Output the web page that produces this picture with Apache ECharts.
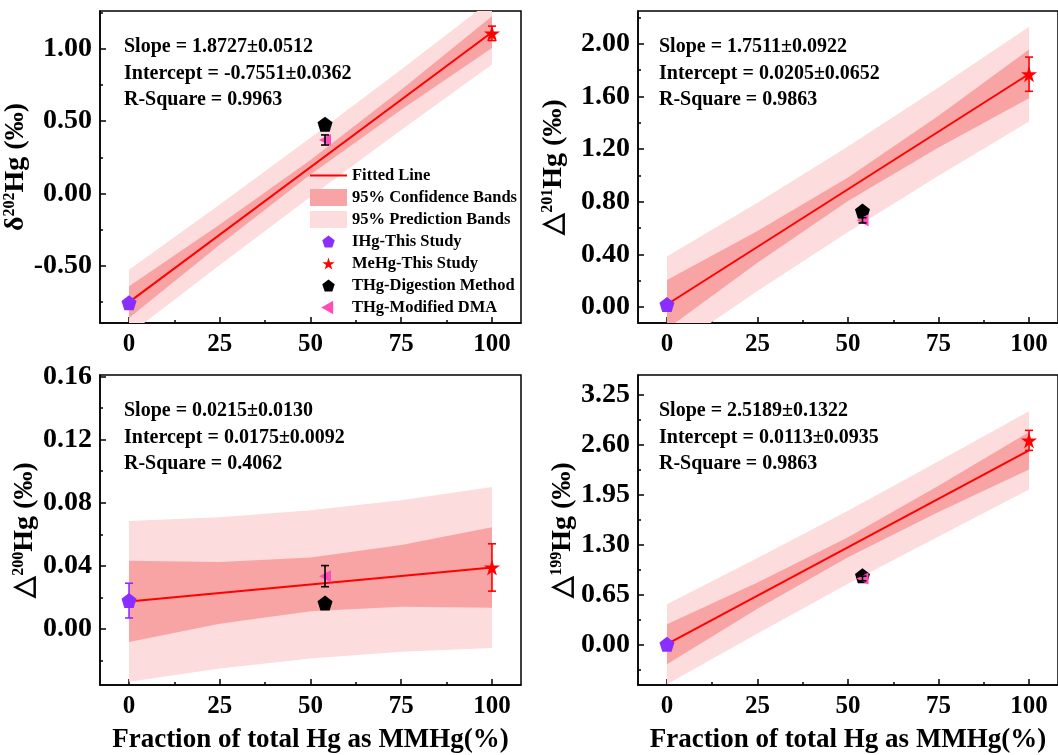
<!DOCTYPE html>
<html>
<head>
<meta charset="utf-8">
<title>Hg isotopes vs MMHg fraction</title>
<script src="https://cdn.jsdelivr.net/npm/echarts@6.0.0/dist/echarts.min.js"></script>
<style>
html, body { margin: 0; padding: 0; background: #fff; }
#main { width: 1058px; height: 755px; }
</style>
</head>
<body>
<div id="main"></div>
<script>
// x positions (fit line ends, band read points) and tick values
var fitX = [0, 100];
var bandX = [0, 25, 50, 75, 100];
var xTicks = [0, 25, 50, 75, 100];
var xMinor = [12.5, 37.5, 62.5, 87.5];

// d202Hg
var d202Ticks = [-0.5, 0, 0.5, 1.0];
var d202Minor = [-0.75, -0.25, 0.25, 0.75, 1.25];
var d202Line = [-0.755, 1.118];
var d202ConfLow = [-0.865, -0.357, 0.131, 0.579, 1.008];
var d202ConfHigh = [-0.645, -0.217, 0.231, 0.719, 1.228];
var d202PredLow = [-0.98, -0.497, -0.024, 0.439, 0.893];
var d202PredHigh = [-0.53, -0.077, 0.386, 0.859, 1.343];
var d202IHg = [0, -0.76, 0.02];     // x, y, error
var d202MeHg = [100, 1.11, 0.05];
var d202Dig = [54, 0.48, 0];
var d202Dma = [54, 0.37, 0.035];
var d202Stats = ['Slope = 1.8727±0.0512', 'Intercept = -0.7551±0.0362', 'R-Square = 0.9963'];

// D201Hg
var d201Ticks = [0, 0.4, 0.8, 1.2, 1.6, 2.0];
var d201Minor = [0.2, 0.6, 1.0, 1.4, 1.8, 2.2];
var d201Line = [0.0205, 1.7716];
var d201ConfLow = [-0.165, 0.338, 0.806, 1.214, 1.587];
var d201ConfHigh = [0.206, 0.578, 0.986, 1.454, 1.957];
var d201PredLow = [-0.345, 0.123, 0.571, 0.999, 1.41];
var d201PredHigh = [0.386, 0.793, 1.221, 1.669, 2.13];
var d201IHg = [0, 0.02, 0.02];
var d201MeHg = [100, 1.77, 0.13];
var d201Dig = [54, 0.73, 0.02];
var d201Dma = [54, 0.66, 0.02];
var d201Stats = ['Slope = 1.7511±0.0922', 'Intercept = 0.0205±0.0652', 'R-Square = 0.9863'];

// D200Hg
var d200Ticks = [0, 0.04, 0.08, 0.12, 0.16];
var d200Minor = [-0.02, 0.02, 0.06, 0.10, 0.14];
var d200Line = [0.0175, 0.039];
var d200ConfLow = [-0.0082, 0.0034, 0.0113, 0.0141, 0.0135];
var d200ConfHigh = [0.0432, 0.0425, 0.0453, 0.0532, 0.0645];
var d200PredLow = [-0.0335, -0.0251, -0.0187, -0.0144, -0.012];
var d200PredHigh = [0.0685, 0.0709, 0.0753, 0.0816, 0.090];
var d200IHg = [0, 0.018, 0.011];
var d200MeHg = [100, 0.039, 0.015];
var d200Dig = [54, 0.0165, 0];
var d200Dma = [54, 0.0335, 0.0067];
var d200Stats = ['Slope = 0.0215±0.0130', 'Intercept = 0.0175±0.0092', 'R-Square = 0.4062'];

// D199Hg
var d199Ticks = [0, 0.65, 1.3, 1.95, 2.6, 3.25];
var d199Minor = [-0.325, 0.325, 0.975, 1.625, 2.275, 2.925];
var d199Line = [0.0113, 2.530];
var d199ConfLow = [-0.249, 0.471, 1.141, 1.73, 2.28];
var d199ConfHigh = [0.271, 0.811, 1.401, 2.07, 2.77];
var d199PredLow = [-0.509, 0.151, 0.796, 1.41, 2.02];
var d199PredHigh = [0.531, 1.131, 1.746, 2.39, 3.04];
var d199IHg = [0, 0.01, 0.02];
var d199MeHg = [100, 2.66, 0.13];
var d199Dig = [54, 0.90, 0.04];
var d199Dma = [54, 0.865, 0.03];
var d199Stats = ['Slope = 2.5189±0.1322', 'Intercept = 0.0113±0.0935', 'R-Square = 0.9863'];

var FONT = '"Liberation Serif", "Times New Roman", serif';
var colors = { ihg: '#8a2eff', mehg: '#ff0000', dig: '#000000', dma: '#ff4db8',
               conf: '#f9a4a4', pred: '#fddcdd', line: '#ff0000' };

// marker shapes
var pent = 'path://M0,-10L9.511,-3.09L5.878,8.09L-5.878,8.09L-9.511,-3.09Z';
var star = 'path://M0,-10L2.245,-3.09L9.511,-3.09L3.633,1.18L5.878,8.09L0,3.82L-5.878,8.09L-3.633,1.18L-9.511,-3.09L-2.245,-3.09Z';
var triL = 'path://M-8,0L6,-8L6,8Z';
// same shapes with empty room around them, so legend icons come out small
var pentIcon = 'path://M-13,-14M13,12M0,-10L9.511,-3.09L5.878,8.09L-5.878,8.09L-9.511,-3.09Z';
var starIcon = 'path://M-13,-14M13,12M0,-10L2.245,-3.09L9.511,-3.09L3.633,1.18L5.878,8.09L0,3.82L-5.878,8.09L-3.633,1.18L-9.511,-3.09L-2.245,-3.09Z';
var triIcon = 'path://M-10,-10M11,10M-8,0L6,-8L6,8Z';
var lineIcon = 'path://M0,0L37,0L37,2L0,2Z';

var panels = [
    { grid: {left: 100, top: 11, width: 421, height: 312}, yMin: -0.90, yMax: 1.265,
      ticks: d202Ticks, minor: d202Minor, sym: 'δ', iso: '202', nameGap: 61,
      line: d202Line, conf: [d202ConfLow, d202ConfHigh], pred: [d202PredLow, d202PredHigh],
      ihg: d202IHg, mehg: d202MeHg, dig: d202Dig, dma: d202Dma, stats: d202Stats, statsPos: [124, 34], xTitle: false },
    { grid: {left: 638, top: 11, width: 422, height: 312}, yMin: -0.12, yMax: 2.25,
      ticks: d201Ticks, minor: d201Minor, sym: '△', iso: '201', nameGap: 70,
      line: d201Line, conf: [d201ConfLow, d201ConfHigh], pred: [d201PredLow, d201PredHigh],
      ihg: d201IHg, mehg: d201MeHg, dig: d201Dig, dma: d201Dma, stats: d201Stats, statsPos: [659, 34], xTitle: false },
    { grid: {left: 100, top: 375, width: 421, height: 312}, yMin: -0.0355, yMax: 0.161,
      ticks: d200Ticks, minor: d200Minor, sym: '△', iso: '200', nameGap: 57,
      line: d200Line, conf: [d200ConfLow, d200ConfHigh], pred: [d200PredLow, d200PredHigh],
      ihg: d200IHg, mehg: d200MeHg, dig: d200Dig, dma: d200Dma, stats: d200Stats, statsPos: [124, 398], xTitle: true },
    { grid: {left: 638, top: 375, width: 422, height: 312}, yMin: -0.52, yMax: 3.51,
      ticks: d199Ticks, minor: d199Minor, sym: '△', iso: '199', nameGap: 58,
      line: d199Line, conf: [d199ConfLow, d199ConfHigh], pred: [d199PredLow, d199PredHigh],
      ihg: d199IHg, mehg: d199MeHg, dig: d199Dig, dma: d199Dma, stats: d199Stats, statsPos: [659, 398], xTitle: true }
];

function bandSeries(name, g, low, high, color) {
    return {
        type: 'custom', name: name, xAxisIndex: 2 * g, yAxisIndex: 2 * g,
        silent: true, itemStyle: {color: color},
        data: [[bandX[0], low[0]]],
        renderItem: function (params, api) {
            var pts = [];
            for (var i = 0; i < bandX.length; i++) pts.push(api.coord([bandX[i], high[i]]));
            for (var j = bandX.length - 1; j >= 0; j--) pts.push(api.coord([bandX[j], low[j]]));
            var cs = params.coordSys;
            return {
                type: 'polygon', shape: {points: pts}, style: {fill: color},
                clipPath: {type: 'rect', shape: {x: cs.x, y: cs.y, width: cs.width, height: cs.height}}
            };
        }
    };
}

function errSeries(g, pt, color) {
    return {
        type: 'custom', xAxisIndex: 2 * g, yAxisIndex: 2 * g, silent: true,
        dimensions: ['x', 'y', 'err'], encode: {x: 0, y: 1},
        data: [pt],
        renderItem: function (params, api) {
            var x = api.value(0), y = api.value(1), e = api.value(2);
            var a = api.coord([x, y + e]), b = api.coord([x, y - e]);
            var w = 4, st = {stroke: color, lineWidth: 1.6};
            return {type: 'group', children: [
                {type: 'line', shape: {x1: a[0], y1: a[1], x2: b[0], y2: b[1]}, style: st},
                {type: 'line', shape: {x1: a[0] - w, y1: a[1], x2: a[0] + w, y2: a[1]}, style: st},
                {type: 'line', shape: {x1: b[0] - w, y1: b[1], x2: b[0] + w, y2: b[1]}, style: st}
            ]};
        }
    };
}

function scatterSeries(name, g, pt, symbol, size, color) {
    return {
        type: 'scatter', name: name, xAxisIndex: 2 * g, yAxisIndex: 2 * g,
        data: [[pt[0], pt[1]]], symbol: symbol, symbolSize: size,
        itemStyle: {color: color, opacity: 1}, z: 5
    };
}

var boldText = {color: '#000', fontFamily: FONT, fontWeight: 'bold'};
var axisLineStyle = {color: '#000', width: 1.5};

var grids = [], xAxes = [], yAxes = [], series = [], graphics = [];

panels.forEach(function (p, g) {
    grids.push(Object.assign({show: true, borderColor: '#000', borderWidth: 1.5}, p.grid));

    xAxes.push({
        type: 'value', gridIndex: g, min: -8, max: 108, position: 'bottom',
        axisLine: {show: true, onZero: false, lineStyle: axisLineStyle},
        axisTick: {show: true, inside: true, length: 6, customValues: xTicks, lineStyle: axisLineStyle},
        axisLabel: Object.assign({customValues: xTicks, margin: 9, fontSize: 25}, boldText),
        splitLine: {show: false},
        name: p.xTitle ? 'Fraction of total Hg as MMHg(%)' : '',
        nameLocation: 'middle', nameGap: 42,
        nameTextStyle: Object.assign({fontSize: 27}, boldText)
    });
    xAxes.push({
        type: 'value', gridIndex: g, min: -8, max: 108, position: 'bottom',
        axisLine: {show: false, onZero: false}, axisLabel: {show: false}, splitLine: {show: false},
        axisTick: {show: true, inside: true, length: 3, customValues: xMinor, lineStyle: axisLineStyle}
    });

    yAxes.push({
        type: 'value', gridIndex: g, min: p.yMin, max: p.yMax, position: 'left',
        axisLine: {show: true, onZero: false, lineStyle: axisLineStyle},
        axisTick: {show: true, inside: true, length: 6, customValues: p.ticks, lineStyle: axisLineStyle},
        axisLabel: Object.assign({customValues: p.ticks, margin: 8, fontSize: 28,
            formatter: function (v) { return v.toFixed(2); }}, boldText),
        splitLine: {show: false},
        name: '{a|' + p.sym + '}{s|' + p.iso + '}{a|Hg (‰)}',
        nameLocation: 'middle', nameGap: p.nameGap,
        nameTextStyle: {rich: {
            a: Object.assign({fontSize: 28}, boldText),
            s: Object.assign({fontSize: 16, lineHeight: 16, verticalAlign: 'top'}, boldText)
        }}
    });
    yAxes.push({
        type: 'value', gridIndex: g, min: p.yMin, max: p.yMax, position: 'left',
        axisLine: {show: false, onZero: false}, axisLabel: {show: false}, splitLine: {show: false},
        axisTick: {show: true, inside: true, length: 3, customValues: p.minor, lineStyle: axisLineStyle}
    });

    series.push(bandSeries('95% Prediction Bands', g, p.pred[0], p.pred[1], colors.pred));
    series.push(bandSeries('95% Confidence Bands', g, p.conf[0], p.conf[1], colors.conf));
    series.push({
        type: 'line', name: 'Fitted Line', xAxisIndex: 2 * g, yAxisIndex: 2 * g,
        data: [[fitX[0], p.line[0]], [fitX[1], p.line[1]]],
        symbol: 'none', showSymbol: false, silent: true,
        lineStyle: {color: colors.line, width: 2}, itemStyle: {color: colors.line}
    });
    if (p.ihg[2] > 0) series.push(errSeries(g, p.ihg, colors.ihg));
    if (p.mehg[2] > 0) series.push(errSeries(g, p.mehg, colors.mehg));
    if (p.dig[2] > 0) series.push(errSeries(g, p.dig, '#000'));
    series.push(scatterSeries('IHg-This Study', g, p.ihg, pent, 15, colors.ihg));
    series.push(scatterSeries('MeHg-This Study', g, p.mehg, star, 16, colors.mehg));
    series.push(scatterSeries('THg-Digestion Method', g, p.dig, pent, 15, colors.dig));
    series.push(scatterSeries('THg-Modified DMA', g, p.dma, triL, 12, colors.dma));
    if (p.dma[2] > 0) {
        var eb = errSeries(g, p.dma, '#000');
        eb.z = 6;
        series.push(eb);
    }

    graphics.push({
        type: 'text', left: p.statsPos[0], top: p.statsPos[1], z: 10,
        style: {text: p.stats.join('\n'), fill: '#000', fontFamily: FONT, fontWeight: 'bold',
                fontSize: 20, lineHeight: 26.5}
    });
});

var chart = echarts.init(document.getElementById('main'));
chart.setOption({
    animation: false,
    backgroundColor: '#fff',
    grid: grids,
    xAxis: xAxes,
    yAxis: yAxes,
    legend: {
        orient: 'vertical', left: 310, top: 167, padding: 0,
        itemWidth: 37, itemHeight: 17, itemGap: 5,
        selectedMode: false,
        textStyle: Object.assign({fontSize: 16.5}, boldText),
        data: [
            {name: 'Fitted Line', icon: lineIcon},
            {name: '95% Confidence Bands', icon: 'rect'},
            {name: '95% Prediction Bands', icon: 'rect'},
            {name: 'IHg-This Study', icon: pentIcon},
            {name: 'MeHg-This Study', icon: starIcon},
            {name: 'THg-Digestion Method', icon: pentIcon},
            {name: 'THg-Modified DMA', icon: triIcon}
        ]
    },
    graphic: graphics,
    series: series
});
</script>
</body>
</html>
